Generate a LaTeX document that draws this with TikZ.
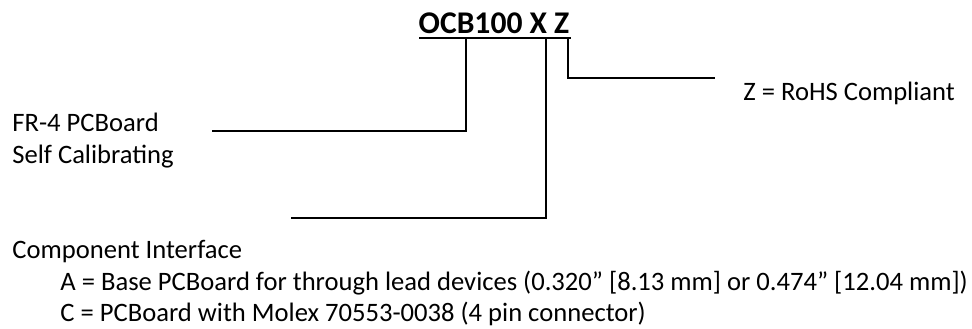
\documentclass[tikz,border=0pt]{standalone}
\usepackage{fontspec}
\setmainfont{Carlito}
\usepackage{tikz}
\usetikzlibrary{positioning}

\tikzset{
    lbl/.style={inner sep=0pt, anchor=base west, font=\fontsize{13.3}{16}\selectfont},
    title/.style={inner sep=0pt, anchor=base, font=\fontsize{15.8}{19}\selectfont\bfseries},
    lead/.style={line width=0.75pt},
}

\begin{document}
\begin{tikzpicture}[x=0.5pt, y=-0.5pt]
    \useasboundingbox (0,0) rectangle (972,328);

    % part number with underline
    \node[title] (code) at (494,33) {OCB100 X Z};
    \draw[line width=1.15pt] (419,38) coordinate (ul) -- (571,38) coordinate (ur);

    % tap points on the underline
    \coordinate (tapB) at (466,38);
    \coordinate (tapX) at (546,38);
    \coordinate (tapZ) at (568,38);

    % free ends of the leaders
    \coordinate (endB) at (212,131);
    \coordinate (endX) at (291,218);
    \coordinate (endZ) at (715,78);

    % descriptions
    \node[lbl] (rohs) at (743,100) {Z = RoHS Compliant};
    \node[lbl] (fr4) at (12,131) {FR-4 PCBoard};
    \node[lbl] (selfcal) at (12,163) {Self Calibrating};
    \node[lbl] (iface) at (12,258) {Component Interface};
    \node[lbl] (optA) at (60,290) {A = Base PCBoard for through lead devices (0.320” [8.13 mm] or 0.474” [12.04 mm])};
    \node[lbl] (optC) at (60,321) {C = PCBoard with Molex 70553-0038 (4 pin connector)};

    \draw[lead] (tapB) |- (endB);
    \draw[lead] (tapX) |- (endX);
    \draw[lead] (tapZ) |- (endZ);
\end{tikzpicture}
\end{document}
